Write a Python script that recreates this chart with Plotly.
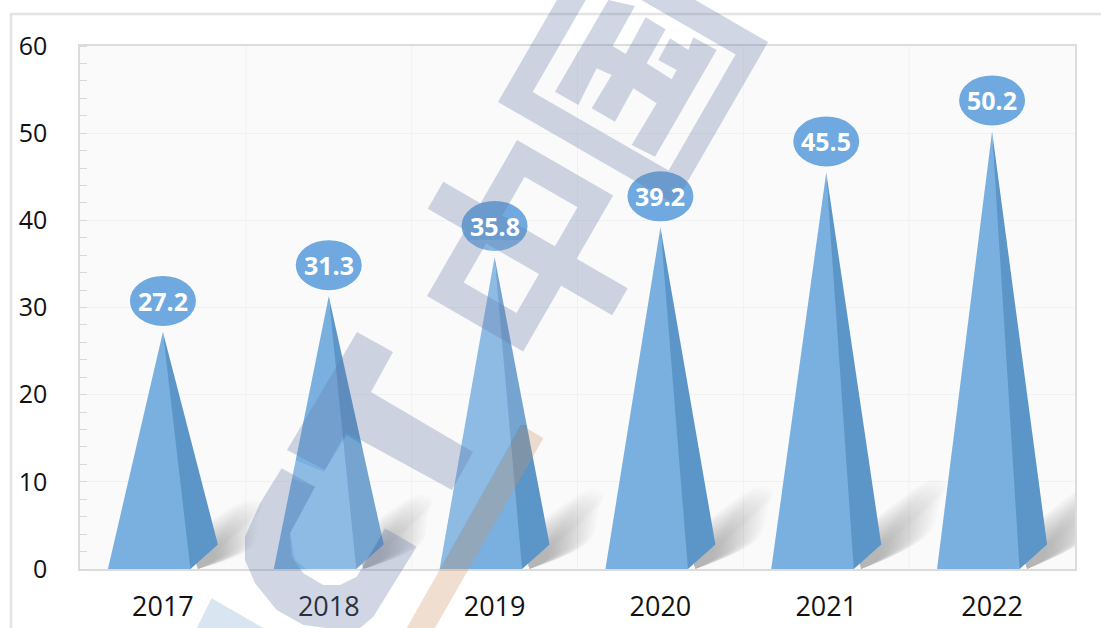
import plotly.graph_objects as go

# ---- data ----
years = ["2017", "2018", "2019", "2020", "2021", "2022"]
values = [27.2, 31.3, 35.8, 39.2, 45.5, 50.2]
y_ticks = [0, 10, 20, 30, 40, 50, 60]

# ---- plot box (px) ----
W, H = 1101, 628
L, R, T, B = 80, 1075, 46, 569
PX_X = 6 / (R - L)          # category units per pixel
PX_Y = 60 / (B - T)         # value units per pixel


def xp(x):
    return (x - L) / (R - L)


def yp(y):
    return 1 - (y - T) / (B - T)


def px_path(points):
    return "M " + " L ".join(f"{xp(x):.5f} {yp(y):.5f}" for x, y in points) + " Z"


def zoom_pts(points, ox, oy):
    return [(ox + a / 3, oy + b / 3) for a, b in points]


def rotated(ox, oy, us_vs):
    # frame of the tilted watermark glyphs
    return [(ox + u * 0.866 + v * 0.5, oy + u * 0.5 - v * 0.866) for u, v in us_vs]


def rect(u0, v0, u1, v1):
    return [(u0, v0), (u1, v0), (u1, v1), (u0, v1)]


fig = go.Figure()

# ---- soft shadows behind each pyramid ----
LAYERS = 24
for i, v in enumerate(values):
    reach = 70 + 1.1 * v             # px to the right of the centre
    for k in range(LAYERS):
        f = 1 - k / LAYERS
        tip = 50 + (reach - 50) * f
        h = 4 + 19 * f
        mid = 45 + (tip - 45) * 0.55
        xs = [35, mid + h * 0.7, tip - h * 0.2, tip, tip - h * 0.6, mid - h * 0.7, 25]
        ys = [0, mid - 35 - h * 0.7, tip - 35 - h * 0.6, tip - 35, tip - 35 + h * 0.2,
              mid - 35 + h * 0.7, 30]
        fig.add_trace(go.Scatter(
            x=[i + a * PX_X for a in xs],
            y=[max(b, 0) * PX_Y for b in ys],
            mode="lines", fill="toself", line=dict(width=0, shape="spline"),
            fillcolor="rgba(60,60,60,0.016)", hoverinfo="skip", showlegend=False))

# ---- pyramids ----
for i, v in enumerate(values):
    fig.add_trace(go.Scatter(
        x=[i, i + 20 * PX_X, i + 27.5 * PX_X, i + 55 * PX_X, i], y=[v, 0, 0, 2.8, v],
        mode="lines", fill="toself", line=dict(width=0),
        fillcolor="#5c95c7", hoverinfo="skip", showlegend=False))
    fig.add_trace(go.Scatter(
        x=[i - 55 * PX_X, i + 27.5 * PX_X, i, i - 55 * PX_X], y=[0, 0, v, 0],
        mode="lines", fill="toself", line=dict(width=0),
        fillcolor="#79b0e0", hoverinfo="skip", showlegend=False))

shapes = []

# frame of the picture
shapes.append(dict(type="line", xref="paper", yref="paper", x0=xp(11), x1=xp(11),
                   y0=yp(14), y1=yp(H), line=dict(color="#e4e4e4", width=2.5), layer="below"))
shapes.append(dict(type="line", xref="paper", yref="paper", x0=xp(10), x1=xp(W),
                   y0=yp(14), y1=yp(14), line=dict(color="#e4e4e4", width=2.5), layer="below"))

# vertical grid lines between categories
for i in range(1, len(years)):
    shapes.append(dict(type="line", xref="x", yref="paper", x0=i - 0.5, x1=i - 0.5,
                       y0=0, y1=1, line=dict(color="#f0f1f3", width=1), layer="below"))

# value bubbles
for i, v in enumerate(values):
    shapes.append(dict(type="circle", xref="x", yref="y",
                       x0=i - 33 * PX_X, x1=i + 33 * PX_X,
                       y0=v + 6 * PX_Y, y1=v + 56 * PX_Y,
                       fillcolor="#6fa9df", line=dict(width=0), layer="above"))

# ---- watermark ----
GRAY = "rgba(100,118,165,0.30)"
PALE = "rgba(110,160,200,0.26)"
ORANGE = "rgba(205,150,100,0.30)"
WHITE = "rgba(255,255,255,0.15)"

guo_ring = (rotated(498, 102, rect(0, 0, 204, 187)), rotated(498, 102, rect(25, 26, 182, 160)))
zhong_ring = [rotated(427, 296, rect(0, 0, 111, 180)),
              rotated(427, 296, rect(25, 30, 86, 75)),
              rotated(427, 296, rect(25, 107, 86, 152))]
zhong_bar_a = rotated(427, 296, rect(-43, 76, 0, 107))
zhong_bar_b = rotated(427, 296, rect(111, 76, 170, 107))
guo_inner = zoom_pts([(225, 275), (385, 0), (465, 18), (398, 138), (437, 162), (497, 52),
                      (557, 88), (500, 190), (575, 238), (590, 210), (535, 180), (570, 115),
                      (625, 150), (640, 112), (710, 150), (525, 470), (455, 435), (530, 310),
                      (460, 265), (405, 365), (335, 325), (395, 225), (350, 205), (295, 315)],
                     480, 0)
t_stroke = [(357, 332), (393, 352), (371, 392), (473, 452), (452, 490), (346, 432), (325, 470), (287, 450)]
c_stroke = zoom_pts([(305, 145), (240, 250), (195, 350), (195, 420), (225, 490), (290, 570),
                     (370, 615), (440, 624), (540, 624), (580, 590), (710, 380), (615, 325),
                     (530, 470), (480, 495), (430, 495), (370, 460), (335, 410), (330, 340),
                     (405, 200)], 180, 420)
low_stroke = zoom_pts([(95, 535), (250, 624), (50, 624)], 180, 420)
orange_stroke = zoom_pts([(1025, 15), (1090, 55), (765, 624), (680, 624)], 180, 420)
light_2018 = zoom_pts([(500, 45), (432, 155), (345, 120), (325, 170), (405, 200), (330, 340),
                       (345, 420), (440, 495), (530, 470), (610, 340), (600, 200), (540, 70)],
                      180, 420)
light_2019 = [(521, 425), (440, 569), (420, 569), (470, 240), (530, 240), (560, 425)]

for outline, color in [(light_2018, WHITE), (light_2019, WHITE),
                       (t_stroke, GRAY), (c_stroke, GRAY), (low_stroke, PALE),
                       (orange_stroke, ORANGE), (guo_inner, GRAY),
                       (zhong_bar_a, GRAY), (zhong_bar_b, GRAY)]:
    shapes.append(dict(type="path", xref="paper", yref="paper", path=px_path(outline),
                       fillcolor=color, line=dict(width=0), layer="above"))
shapes.append(dict(type="path", xref="paper", yref="paper",
                   path=" ".join(px_path(p) for p in guo_ring),
                   fillcolor=GRAY, fillrule="evenodd", line=dict(width=0), layer="above"))
shapes.append(dict(type="path", xref="paper", yref="paper",
                   path=" ".join(px_path(p) for p in zhong_ring),
                   fillcolor=GRAY, fillrule="evenodd", line=dict(width=0), layer="above"))

annotations = [dict(x=i, y=v, xref="x", yref="y", yshift=31, text=f"<b>{v}</b>", showarrow=False,
                    font=dict(family="Open Sans", size=25, color="white"))
               for i, v in enumerate(values)]

fig.update_layout(
    width=W, height=H, autosize=False,
    margin=dict(l=L, r=W - R, t=T, b=H - B),
    paper_bgcolor="white", plot_bgcolor="#fafafa",
    font=dict(family="Open Sans", color="#111111"),
    shapes=shapes, annotations=annotations, showlegend=False,
    xaxis=dict(range=[-0.5, 5.5], tickmode="array", tickvals=list(range(len(years))),
               ticktext=years, showgrid=False, zeroline=False, showline=True, mirror=True,
               linecolor="#dcdcdc", linewidth=1.5, ticks="", ticklabelstandoff=13,
               automargin=False, tickfont=dict(size=27, color="#111111")),
    yaxis=dict(range=[0, 60], tickmode="array", tickvals=y_ticks, showgrid=True,
               gridcolor="#f0f1f3", gridwidth=1, zeroline=False, showline=True, mirror=True,
               linecolor="#dcdcdc", linewidth=1.5, ticks="", ticklabelstandoff=26,
               automargin=False,
               minor=dict(dtick=2, tick0=0, ticks="inside", ticklen=7, tickcolor="#d8d8d8",
                          tickwidth=1, showgrid=False),
               tickfont=dict(size=25, color="#111111")),
)

fig.write_html("out.html", config=dict(displayModeBar=False),
               post_script="document.body.style.margin='0';")
